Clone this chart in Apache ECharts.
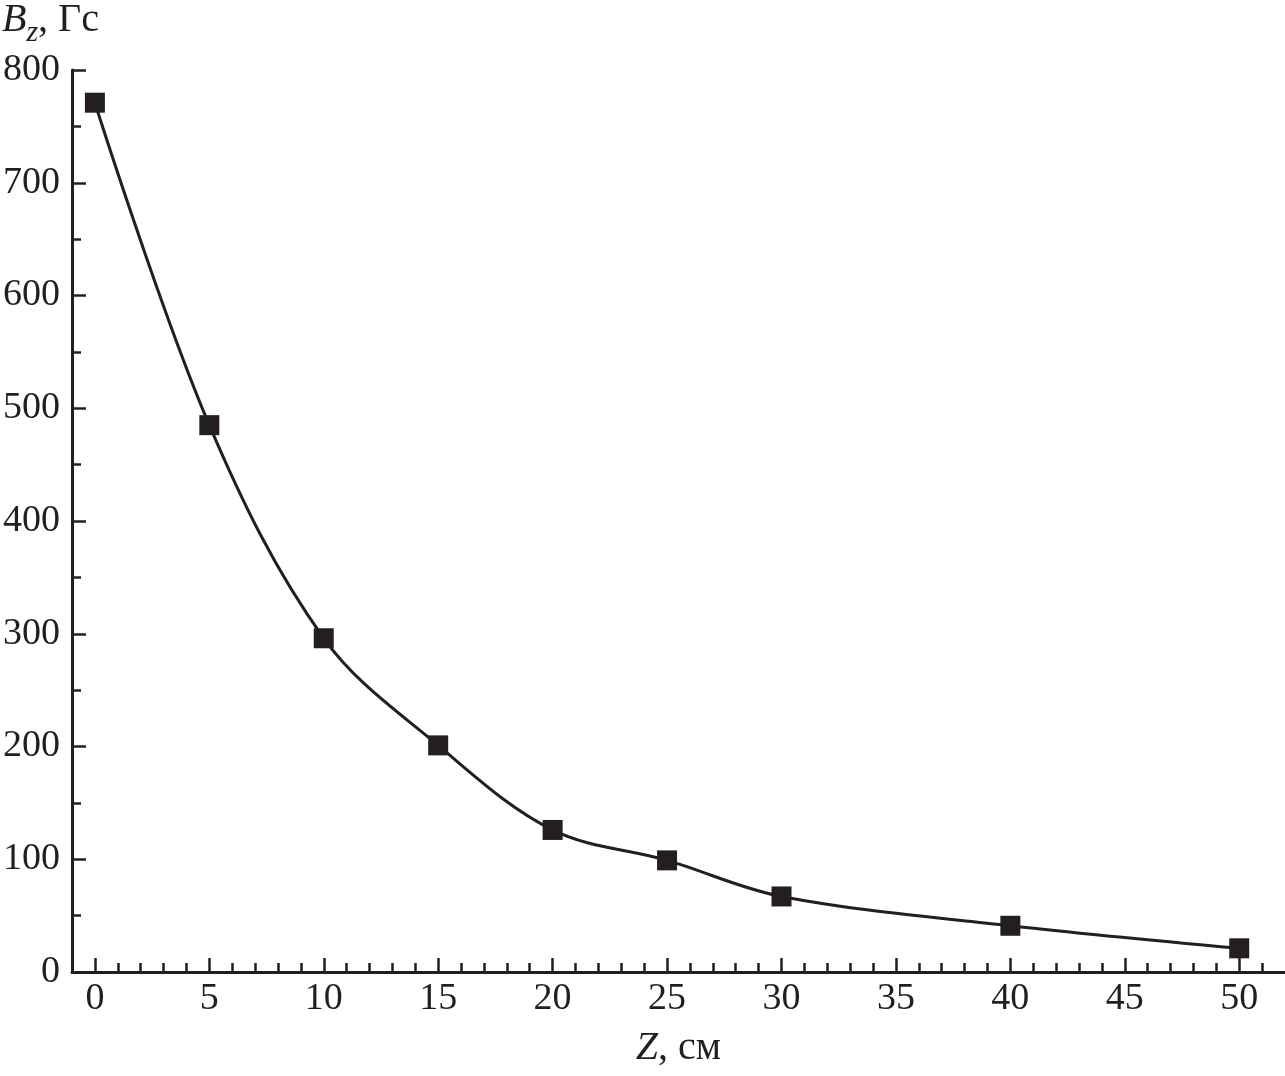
<!DOCTYPE html>
<html>
<head>
<meta charset="utf-8">
<script src="https://cdn.jsdelivr.net/npm/echarts@6/dist/echarts.min.js"></script>
<style>
html,body{margin:0;padding:0;background:#fff;}
#chart{width:1285px;height:1076px;}
</style>
</head>
<body>
<div id="chart"></div>
<script>
var zValues = [0, 5, 10, 15, 20, 25, 30, 40, 50];
var bzValues = [771, 485, 296, 201, 126, 99, 67, 41, 21];
var xMajorTicks = [0, 5, 10, 15, 20, 25, 30, 35, 40, 45, 50];
var xMinorTicks = [1,2,3,4,6,7,8,9,11,12,13,14,16,17,18,19,21,22,23,24,26,27,28,29,31,32,33,34,36,37,38,39,41,42,43,44,46,47,48,49,51];

var C = '#231f20';
var FONT = 'Liberation Serif';
var chart = echarts.init(document.getElementById('chart'));
var data = zValues.map(function (z, i) { return [z, bzValues[i]]; });

chart.setOption({
  animation: false,
  backgroundColor: '#fff',
  grid: { left: 72, right: 0, top: 70, bottom: 104, containLabel: false },
  xAxis: [
    {
      type: 'value', min: -1, max: 52, position: 'bottom',
      axisLine: { show: true, onZero: false, lineStyle: { color: C, width: 3 } },
      axisTick: { show: true, inside: true, length: 14, customValues: xMajorTicks, lineStyle: { color: C, width: 2.5 } },
      axisLabel: { show: true, customValues: xMajorTicks, margin: 8, color: C, fontFamily: FONT, fontSize: 38 },
      splitLine: { show: false },
      name: '{i|Z}{n|, см}', nameLocation: 'middle', nameGap: 56,
      nameTextStyle: { rich: {
        i: { fontFamily: FONT, fontStyle: 'italic', fontSize: 40, color: C },
        n: { fontFamily: FONT, fontSize: 40, color: C }
      } }
    },
    {
      type: 'value', min: -1, max: 52, position: 'bottom',
      axisLine: { show: false, onZero: false },
      axisTick: { show: true, inside: true, length: 9, customValues: xMinorTicks, lineStyle: { color: C, width: 2.5 } },
      axisLabel: { show: false },
      splitLine: { show: false }
    }
  ],
  yAxis: {
    type: 'value', min: 0, max: 800, interval: 100,
    axisLine: { show: true, onZero: false, lineStyle: { color: C, width: 3 } },
    axisTick: { show: true, inside: true, length: 14, lineStyle: { color: C, width: 2.5 } },
    minorTick: { show: true, splitNumber: 2, length: 9, lineStyle: { color: C, width: 2.5 } },
    axisLabel: { margin: 12, color: C, fontFamily: FONT, fontSize: 38 },
    splitLine: { show: false }
  },
  graphic: [{
    type: 'text', left: 2, top: 0,
    style: {
      text: '{b|B}{s|z}{n|, Гс}',
      rich: {
        b: { fontFamily: FONT, fontStyle: 'italic', fontSize: 40, fill: C, verticalAlign: 'top', lineHeight: 44 },
        s: { fontFamily: FONT, fontStyle: 'italic', fontSize: 30, fill: C, verticalAlign: 'top', lineHeight: 34, padding: [18, 0, 0, 0] },
        n: { fontFamily: FONT, fontSize: 40, fill: C, verticalAlign: 'top', lineHeight: 44 }
      }
    }
  }],
  series: [{
    type: 'line', xAxisIndex: 0, data: data,
    smooth: 0.35,
    symbol: 'rect', symbolSize: 20,
    lineStyle: { color: C, width: 3 },
    itemStyle: { color: C },
    z: 5
  }]
});
</script>
</body>
</html>
